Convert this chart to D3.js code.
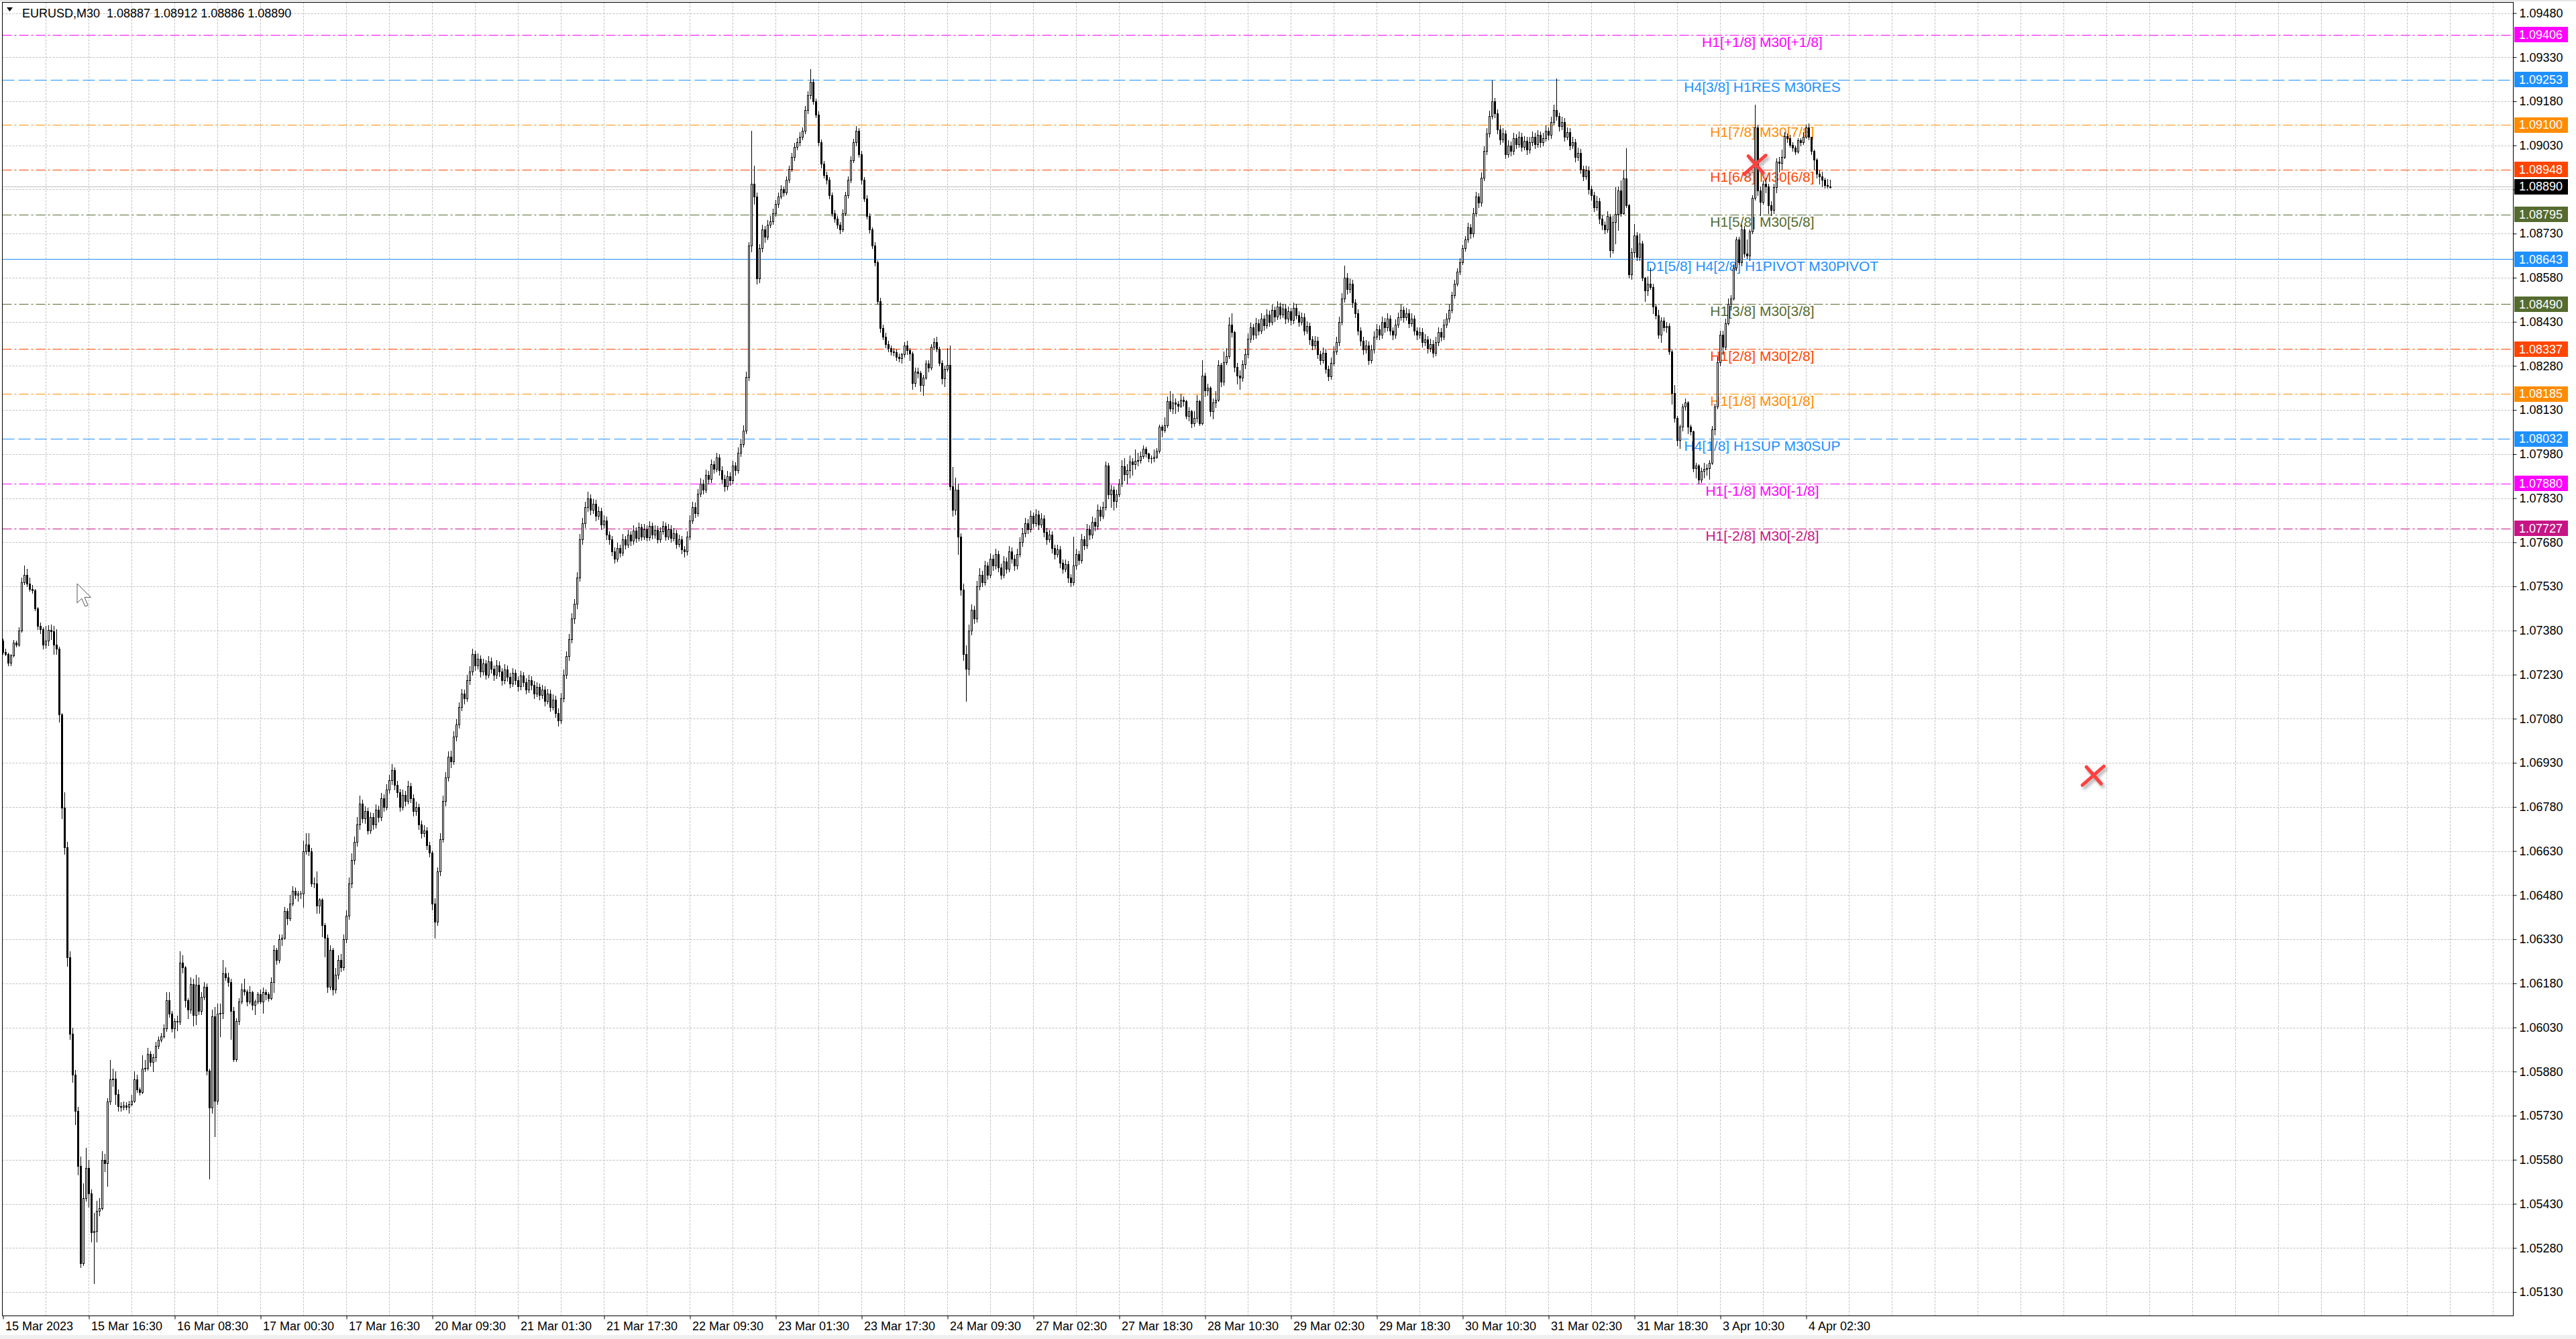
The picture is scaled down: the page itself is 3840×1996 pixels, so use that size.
<!DOCTYPE html>
<html><head><meta charset="utf-8">
<script src="https://cdn.jsdelivr.net/npm/d3@7"></script>
<style>html,body{margin:0;padding:0;background:#fff;overflow:hidden}svg{display:block}</style>
</head><body>
<svg id="c" width="3840" height="1996"></svg>
<script>
// ---------------- DATA ----------------
// candles: [open, high, low, close] in points, price = 1 + v/100000 (EURUSD, M30, one row per bar)
const candles = [
[7345,7352,7300,7306],[7306,7318,7295,7300],[7300,7305,7262,7270],[7270,7300,7260,7295],[7295,7348,7290,7338],[7338,7346,7325,7332],[7332,7392,7328,7380],[7380,7560,7375,7545],[7545,7600,7538,7570],[7570,7590,7530,7540],
[7540,7560,7515,7522],[7522,7535,7508,7516],[7516,7522,7448,7455],[7455,7460,7385,7395],[7395,7408,7370,7385],[7385,7390,7318,7332],[7332,7395,7320,7345],[7345,7398,7330,7382],[7382,7400,7350,7378],[7378,7395,7300,7332],
[7332,7385,7300,7318],[7318,7325,7070,7095],[7095,7100,6740,6778],[6778,6830,6620,6643],[6643,6660,6240,6268],[6268,6290,5990,6008],[6008,6030,5845,5870],[5870,5885,5700,5745],[5745,5760,5530,5560],[5560,5590,5215,5228],
[5228,5500,5222,5449],[5449,5620,5440,5551],[5551,5580,5420,5466],[5466,5480,5300,5332],[5332,5400,5160,5338],[5338,5440,5300,5407],[5407,5450,5390,5415],[5415,5610,5410,5580],[5580,5600,5540,5567],[5567,5790,5490,5777],
[5777,5920,5770,5853],[5853,5890,5830,5856],[5856,5880,5770,5802],[5802,5820,5745,5762],[5762,5775,5745,5760],[5760,5778,5750,5765],[5765,5775,5750,5760],[5760,5780,5740,5768],[5768,5800,5765,5780],[5780,5880,5775,5853],
[5853,5870,5810,5818],[5818,5825,5800,5810],[5810,5935,5805,5890],[5890,5920,5880,5893],[5893,5960,5885,5940],[5940,5950,5900,5912],[5912,5940,5880,5928],[5928,5980,5915,5967],[5967,6000,5958,5989],[5989,6010,5980,6000],
[6000,6040,5995,6026],[6026,6150,6018,6122],[6122,6150,6065,6076],[6076,6085,6015,6026],[6026,6060,5995,6051],[6051,6070,6020,6050],[6050,6290,6040,6251],[6251,6275,6215,6235],[6235,6240,6100,6122],[6122,6130,6060,6090],
[6090,6200,6080,6177],[6177,6195,6035,6073],[6073,6210,6040,6175],[6175,6200,6075,6085],[6085,6150,6075,6135],[6135,6185,6125,6168],[6168,6180,5870,5883],[5883,5890,5515,5758],[5758,6090,5740,6068],[6068,6100,5660,5780],
[5780,6110,5770,6076],[6076,6110,6000,6080],[6080,6260,6060,6213],[6213,6235,6190,6200],[6200,6215,6170,6185],[6185,6195,5990,6085],[6085,6100,5915,5922],[5922,6060,5915,6051],[6051,6130,6040,6118],[6118,6180,6110,6160],
[6160,6195,6140,6152],[6152,6160,6105,6118],[6118,6170,6110,6150],[6150,6155,6090,6106],[6106,6125,6075,6118],[6118,6150,6110,6143],[6143,6160,6110,6118],[6118,6165,6080,6150],[6150,6160,6125,6143],[6143,6150,6120,6130],
[6130,6200,6125,6185],[6185,6310,6150,6293],[6293,6300,6245,6260],[6260,6345,6250,6330],[6330,6345,6310,6335],[6335,6440,6330,6427],[6427,6435,6380,6402],[6402,6480,6395,6452],[6452,6510,6445,6494],[6494,6505,6470,6481],
[6481,6495,6460,6485],[6485,6495,6470,6486],[6486,6665,6440,6628],[6628,6690,6620,6653],[6653,6690,6615,6628],[6628,6640,6510,6519],[6519,6540,6505,6519],[6519,6560,6420,6444],[6444,6470,6420,6464],[6464,6470,6340,6377],
[6377,6385,6270,6335],[6335,6345,6150,6168],[6168,6310,6160,6293],[6293,6300,6140,6160],[6160,6232,6148,6210],[6210,6275,6195,6260],[6260,6280,6220,6235],[6235,6345,6225,6330],[6330,6428,6318,6410],[6410,6540,6398,6520],
[6520,6622,6505,6600],[6600,6680,6585,6660],[6660,6745,6648,6720],[6720,6818,6705,6790],[6790,6805,6728,6740],[6740,6782,6725,6765],[6765,6778,6688,6700],[6700,6762,6690,6745],[6745,6760,6705,6720],[6720,6788,6708,6770],
[6770,6785,6730,6745],[6745,6828,6735,6810],[6810,6822,6765,6780],[6780,6858,6770,6840],[6840,6890,6828,6870],[6870,6925,6858,6905],[6905,6915,6840,6855],[6855,6868,6815,6830],[6830,6842,6765,6780],[6780,6838,6770,6820],
[6820,6835,6785,6800],[6800,6868,6790,6850],[6850,6862,6795,6810],[6810,6822,6750,6765],[6765,6798,6752,6780],[6780,6790,6705,6720],[6720,6735,6675,6690],[6690,6718,6680,6700],[6700,6712,6635,6650],[6650,6662,6610,6625],
[6625,6632,6430,6450],[6450,6470,6335,6390],[6390,6575,6378,6560],[6560,6690,6548,6670],[6670,6818,6660,6800],[6800,6898,6785,6880],[6880,6968,6868,6950],[6950,6972,6915,6935],[6935,7038,6925,7020],[7020,7078,7005,7060],
[7060,7135,7048,7120],[7120,7182,7108,7165],[7165,7178,7130,7150],[7150,7228,7140,7210],[7210,7258,7198,7240],[7240,7318,7228,7300],[7300,7312,7245,7262],[7262,7302,7250,7285],[7285,7295,7222,7240],[7240,7285,7228,7268],
[7268,7280,7215,7230],[7230,7292,7220,7275],[7275,7288,7235,7250],[7250,7262,7212,7228],[7228,7280,7218,7262],[7262,7275,7225,7240],[7240,7252,7195,7210],[7210,7265,7200,7248],[7248,7260,7208,7222],[7222,7235,7185,7200],
[7200,7252,7190,7235],[7235,7248,7198,7212],[7212,7225,7175,7190],[7190,7242,7180,7226],[7226,7238,7190,7205],[7205,7218,7165,7180],[7180,7228,7170,7212],[7212,7225,7180,7195],[7195,7208,7150,7165],[7165,7205,7155,7188],
[7188,7200,7145,7160],[7160,7195,7150,7178],[7178,7190,7125,7140],[7140,7182,7130,7165],[7165,7178,7105,7120],[7120,7162,7110,7145],[7145,7158,7085,7100],[7100,7115,7055,7075],[7075,7168,7065,7150],[7150,7248,7138,7230],
[7230,7310,7218,7293],[7293,7368,7280,7350],[7350,7438,7338,7420],[7420,7488,7405,7470],[7470,7578,7455,7560],[7560,7708,7548,7690],[7690,7762,7675,7745],[7745,7818,7730,7800],[7800,7852,7785,7830],[7830,7842,7775,7790],
[7790,7828,7778,7812],[7812,7825,7755,7770],[7770,7802,7758,7785],[7785,7798,7725,7740],[7740,7772,7728,7755],[7755,7768,7690,7705],[7705,7718,7675,7690],[7690,7702,7635,7650],[7650,7662,7610,7625],[7625,7678,7615,7660],
[7660,7672,7630,7645],[7645,7708,7635,7690],[7690,7702,7658,7672],[7672,7722,7662,7705],[7705,7718,7670,7685],[7685,7738,7675,7720],[7720,7732,7680,7695],[7695,7748,7685,7730],[7730,7742,7688,7700],[7700,7742,7690,7725],
[7725,7738,7685,7698],[7698,7752,7688,7735],[7735,7748,7692,7705],[7705,7738,7695,7722],[7722,7735,7678,7690],[7690,7732,7680,7718],[7718,7752,7708,7735],[7735,7748,7688,7700],[7700,7742,7690,7725],[7725,7738,7682,7695],
[7695,7728,7685,7710],[7710,7722,7660,7675],[7675,7705,7665,7690],[7690,7702,7642,7655],[7655,7668,7630,7648],[7648,7718,7638,7700],[7700,7772,7690,7755],[7755,7818,7745,7800],[7800,7815,7765,7780],[7780,7862,7770,7845],
[7845,7898,7835,7880],[7880,7892,7845,7860],[7860,7928,7850,7910],[7910,7922,7880,7895],[7895,7962,7885,7945],[7945,7958,7915,7930],[7930,7985,7920,7968],[7968,7980,7910,7925],[7925,7938,7880,7895],[7895,7908,7855,7870],
[7870,7922,7860,7905],[7905,7918,7875,7890],[7890,7958,7880,7940],[7940,7952,7910,7925],[7925,8002,7915,7985],[7985,8032,7972,8015],[8015,8078,8005,8060],[8060,8260,8050,8242],[8242,8700,8230,8689],[8689,9079,8670,8900],
[8900,8960,8830,8856],[8856,8870,8560,8577],[8577,8695,8565,8680],[8680,8760,8670,8744],[8744,8755,8700,8720],[8720,8775,8710,8760],[8760,8790,8750,8772],[8772,8815,8762,8800],[8800,8845,8790,8830],[8830,8870,8820,8856],
[8856,8895,8848,8880],[8880,8890,8858,8870],[8870,8925,8862,8912],[8912,8962,8905,8950],[8950,9005,8942,8990],[8990,9038,8980,9024],[9024,9055,9015,9040],[9040,9075,9030,9060],[9060,9092,9050,9079],[9079,9165,9070,9150],
[9150,9215,9140,9200],[9200,9290,9190,9247],[9247,9255,9170,9180],[9180,9190,9125,9135],[9135,9145,9030,9040],[9040,9050,8955,8968],[8968,8978,8920,8930],[8930,8940,8900,8912],[8912,8922,8850,8860],[8860,8870,8790,8800],
[8800,8810,8770,8780],[8780,8790,8748,8760],[8760,8770,8730,8744],[8744,8812,8738,8800],[8800,8872,8792,8860],[8860,8925,8852,8912],[8912,8992,8905,8980],[8980,9052,8972,9040],[9040,9095,9030,9079],[9079,9088,8990,9000],
[9000,9010,8900,8912],[8912,8922,8840,8850],[8850,8860,8780,8790],[8790,8800,8732,8744],[8744,8752,8680,8690],[8690,8700,8620,8633],[8633,8640,8490,8500],[8500,8512,8395,8409],[8409,8420,8370,8380],[8380,8392,8342,8354],
[8354,8365,8330,8340],[8340,8350,8318,8330],[8330,8340,8315,8326],[8326,8335,8300,8310],[8310,8322,8295,8305],[8305,8325,8290,8320],[8320,8360,8310,8349],[8349,8365,8320,8333],[8333,8340,8300,8322],[8322,8330,8200,8221],
[8221,8275,8210,8261],[8261,8275,8240,8255],[8255,8262,8195,8215],[8215,8250,8180,8240],[8240,8300,8235,8288],[8288,8300,8260,8275],[8275,8355,8268,8344],[8344,8375,8335,8360],[8360,8380,8330,8338],[8338,8345,8280,8290],
[8290,8300,8220,8238],[8238,8282,8210,8270],[8270,8340,8262,8283],[8283,8350,7860,7870],[7870,7937,7770,7790],[7790,7900,7775,7860],[7860,7880,7640,7700],[7700,7710,7500,7520],[7520,7540,7280,7300],[7300,7330,7140,7250],
[7250,7400,7230,7380],[7380,7468,7365,7450],[7450,7465,7405,7420],[7420,7548,7410,7530],[7530,7592,7518,7570],[7570,7582,7530,7545],[7545,7618,7535,7600],[7600,7612,7555,7570],[7570,7642,7560,7625],[7625,7638,7585,7600],
[7600,7658,7590,7640],[7640,7652,7580,7595],[7595,7608,7555,7570],[7570,7632,7560,7615],[7615,7628,7575,7590],[7590,7668,7580,7650],[7650,7662,7610,7625],[7625,7638,7585,7600],[7600,7658,7590,7640],[7640,7698,7630,7680],
[7680,7728,7668,7710],[7710,7762,7700,7745],[7745,7758,7710,7725],[7725,7788,7715,7770],[7770,7782,7730,7745],[7745,7792,7735,7775],[7775,7788,7725,7740],[7740,7778,7730,7760],[7760,7772,7700,7715],[7715,7728,7675,7690],
[7690,7722,7680,7705],[7705,7718,7645,7660],[7660,7672,7625,7640],[7640,7672,7630,7655],[7655,7668,7595,7610],[7610,7622,7575,7590],[7590,7622,7580,7605],[7605,7618,7545,7560],[7560,7572,7530,7545],[7545,7700,7535,7600],
[7600,7658,7590,7640],[7640,7652,7605,7620],[7620,7708,7610,7690],[7690,7702,7655,7670],[7670,7742,7660,7725],[7725,7738,7690,7705],[7705,7768,7695,7750],[7750,7762,7720,7735],[7735,7808,7725,7790],[7790,7802,7755,7770],
[7770,7818,7760,7800],[7800,7955,7790,7942],[7942,7950,7830,7844],[7844,7875,7800,7860],[7860,7870,7790,7819],[7819,7860,7800,7844],[7844,7895,7835,7880],[7880,7960,7870,7938],[7938,7965,7890,7911],[7911,7945,7880,7926],
[7926,7975,7900,7955],[7955,7965,7910,7945],[7945,7995,7930,7957],[7957,7985,7940,7960],[7960,7990,7950,7972],[7972,8010,7965,7997],[7997,8005,7970,7982],[7982,7985,7955,7965],[7965,7975,7950,7967],[7967,7995,7955,7970],
[7970,8000,7965,7992],[7992,8080,7985,8074],[8074,8080,8040,8063],[8063,8105,8055,8079],[8079,8175,8070,8160],[8160,8195,8125,8135],[8135,8185,8120,8155],[8155,8170,8120,8150],[8150,8160,8125,8145],[8145,8185,8140,8165],
[8165,8175,8145,8160],[8160,8165,8100,8109],[8109,8140,8095,8125],[8125,8130,8070,8084],[8084,8125,8075,8104],[8104,8180,8090,8160],[8160,8165,8078,8084],[8084,8300,8080,8247],[8247,8255,8175,8196],[8196,8220,8180,8206],
[8206,8210,8110,8125],[8125,8170,8100,8155],[8155,8195,8140,8165],[8165,8300,8160,8283],[8283,8290,8210,8227],[8227,8330,8215,8293],[8293,8340,8285,8313],[8313,8445,8305,8420],[8420,8460,8380,8394],[8394,8400,8260,8277],
[8277,8290,8220,8247],[8247,8265,8200,8240],[8240,8300,8228,8285],[8285,8338,8272,8320],[8320,8390,8308,8372],[8372,8428,8360,8410],[8410,8422,8370,8385],[8385,8442,8375,8425],[8425,8438,8385,8400],[8400,8458,8390,8440],
[8440,8452,8402,8418],[8418,8472,8408,8455],[8455,8468,8415,8430],[8430,8488,8420,8470],[8470,8482,8432,8448],[8448,8500,8438,8482],[8482,8495,8440,8455],[8455,8492,8445,8475],[8475,8488,8425,8440],[8440,8482,8430,8465],
[8465,8478,8420,8435],[8435,8495,8425,8478],[8478,8490,8440,8452],[8452,8465,8415,8430],[8430,8462,8420,8445],[8445,8458,8385,8400],[8400,8432,8390,8415],[8415,8428,8355,8370],[8370,8382,8335,8350],[8350,8382,8340,8365],
[8365,8378,8305,8320],[8320,8332,8285,8300],[8300,8342,8290,8325],[8325,8338,8255,8270],[8270,8282,8230,8245],[8245,8308,8235,8290],[8290,8348,8280,8330],[8330,8378,8320,8360],[8360,8448,8350,8430],[8430,8528,8420,8510],
[8510,8620,8498,8580],[8580,8595,8525,8540],[8540,8578,8530,8560],[8560,8572,8480,8495],[8495,8508,8445,8460],[8460,8472,8385,8400],[8400,8412,8350,8365],[8365,8378,8320,8335],[8335,8368,8325,8350],[8350,8362,8285,8300],
[8300,8352,8290,8335],[8335,8398,8325,8380],[8380,8422,8370,8405],[8405,8418,8370,8385],[8385,8448,8375,8430],[8430,8442,8395,8410],[8410,8458,8400,8440],[8440,8452,8385,8400],[8400,8412,8370,8385],[8385,8438,8375,8420],
[8420,8462,8410,8445],[8445,8488,8435,8470],[8470,8482,8430,8445],[8445,8478,8435,8460],[8460,8472,8410,8425],[8425,8458,8415,8440],[8440,8452,8385,8400],[8400,8412,8370,8385],[8385,8412,8375,8395],[8395,8408,8345,8360],
[8360,8388,8350,8370],[8370,8382,8325,8340],[8340,8372,8330,8355],[8355,8368,8310,8325],[8325,8378,8315,8360],[8360,8412,8350,8395],[8395,8408,8365,8380],[8380,8438,8370,8420],[8420,8458,8410,8440],[8440,8488,8430,8470],
[8470,8532,8462,8520],[8520,8572,8512,8560],[8560,8612,8552,8600],[8600,8645,8592,8633],[8633,8692,8625,8680],[8680,8722,8672,8710],[8710,8768,8700,8750],[8750,8762,8715,8730],[8730,8818,8720,8800],[8800,8872,8790,8856],
[8856,8868,8820,8835],[8835,8938,8825,8920],[8920,9028,8910,9010],[9010,9088,9000,9070],[9070,9148,9060,9130],[9130,9250,9120,9180],[9180,9192,9125,9140],[9140,9152,9070,9085],[9085,9098,9035,9050],[9050,9088,9040,9070],
[9070,9082,8985,9000],[9000,9048,8990,9030],[9030,9042,8995,9010],[9010,9072,9000,9055],[9055,9068,9020,9035],[9035,9078,9025,9060],[9060,9072,9010,9025],[9025,9062,9015,9045],[9045,9058,9000,9015],[9015,9058,9005,9040],
[9040,9078,9030,9060],[9060,9072,9020,9035],[9035,9082,9025,9065],[9065,9078,9025,9040],[9040,9072,9030,9055],[9055,9098,9045,9080],[9080,9092,9050,9065],[9065,9128,9055,9110],[9110,9168,9100,9150],[9150,9258,9115,9130],
[9130,9142,9080,9095],[9095,9128,9085,9110],[9110,9122,9045,9060],[9060,9092,9050,9075],[9075,9088,9015,9030],[9030,9058,9020,9040],[9040,9052,8975,8990],[8990,9022,8980,9005],[9005,9018,8935,8950],[8950,8962,8910,8925],
[8925,8962,8915,8945],[8945,8958,8865,8880],[8880,8892,8845,8860],[8860,8872,8805,8820],[8820,8858,8810,8840],[8840,8852,8765,8780],[8780,8792,8745,8760],[8760,8772,8730,8745],[8745,8805,8735,8790],[8788,8797,8651,8674],
[8674,8790,8665,8769],[8769,8887,8697,8796],[8796,8890,8743,8876],[8876,8910,8790,8800],[8800,8948,8796,8917],[8917,9020,8820,8826],[8826,8830,8580,8591],[8591,8680,8575,8667],[8667,8762,8650,8724],[8724,8735,8640,8650],
[8650,8730,8640,8697],[8697,8705,8570,8579],[8579,8582,8500,8537],[8537,8585,8520,8560],[8560,8614,8540,8548],[8548,8560,8460,8482],[8482,8490,8440,8453],[8453,8470,8375,8387],[8387,8445,8360,8434],[8434,8445,8400,8410],
[8410,8430,8395,8415],[8415,8425,8320,8330],[8330,8335,8150,8188],[8188,8215,8090,8103],[8103,8110,8010,8027],[8027,8080,8000,8074],[8074,8150,8060,8141],[8141,8170,8130,8155],[8155,8160,8050,8074],[8074,8080,8045,8058],
[8058,8060,7920,7932],[7932,7950,7900,7940],[7940,7945,7880,7894],[7894,7935,7885,7923],[7923,7950,7900,7930],[7930,7945,7910,7932],[7932,7960,7895,7951],[7951,8075,7945,8065],[8065,8150,8045,8141],[8141,8310,8135,8292],
[8292,8400,8280,8387],[8387,8400,8320,8345],[8345,8440,8335,8425],[8425,8510,8420,8491],[8491,8520,8470,8510],[8510,8625,8505,8614],[8614,8720,8605,8709],[8709,8720,8625,8633],[8633,8760,8620,8745],[8745,8756,8650,8662],
[8662,8709,8645,8655],[8655,8745,8640,8737],[8737,8860,8730,8851],[8851,9168,8845,9092],[9092,9100,8860,8876],[8876,8890,8791,8838],[8838,8910,8830,8900],[8900,8920,8870,8890],[8890,8900,8800,8826],[8826,8840,8792,8810],
[8810,8900,8800,8887],[8887,8985,8870,8975],[8975,8990,8940,8970],[8970,9015,8950,8990],[8990,9075,8985,9062],[9062,9070,9040,9055],[9055,9065,9025,9031],[9031,9040,9010,9022],[9022,9030,9000,9009],[9009,9055,9005,9047],
[9047,9055,9030,9040],[9040,9075,9035,9060],[9060,9100,9055,9092],[9092,9104,9050,9058],[9058,9060,9000,9012],[9012,9015,8950,8982],[8982,8985,8920,8933],[8933,8945,8900,8925],[8925,8940,8890,8914],[8914,8920,8885,8895],
[8895,8915,8886,8893],[8887,8912,8886,8890]
];
const symbol = "EURUSD,M30";
const timeLabels = ["15 Mar 2023","15 Mar 16:30","16 Mar 08:30","17 Mar 00:30","17 Mar 16:30","20 Mar 09:30","21 Mar 01:30","21 Mar 17:30","22 Mar 09:30","23 Mar 01:30","23 Mar 17:30","24 Mar 09:30","27 Mar 02:30","27 Mar 18:30","28 Mar 10:30","29 Mar 02:30","29 Mar 18:30","30 Mar 10:30","31 Mar 02:30","31 Mar 18:30","3 Apr 10:30","4 Apr 02:30"];
const timeLabelBars = [0,32,64,96,128,160,192,224,256,288,320,352,384,416,448,480,512,544,576,608,640,672];
const priceTicks = ["1.05130","1.05280","1.05430","1.05580","1.05730","1.05880","1.06030","1.06180","1.06330","1.06480","1.06630","1.06780","1.06930","1.07080","1.07230","1.07380","1.07530","1.07680","1.07830","1.07980","1.08130","1.08280","1.08430","1.08580","1.08730","1.08880","1.09030","1.09180","1.09330","1.09480"];
const levelPrices = [1.09406,1.09253,1.09100,1.08948,1.08795,1.08643,1.08490,1.08337,1.08185,1.08032,1.07880,1.07727];
const levelNames = ["H1[+1/8] M30[+1/8]","H4[3/8] H1RES M30RES","H1[7/8] M30[7/8]","H1[6/8] M30[6/8]","H1[5/8] M30[5/8]","D1[5/8] H4[2/8] H1PIVOT M30PIVOT","H1[3/8] M30[3/8]","H1[2/8] M30[2/8]","H1[1/8] M30[1/8]","H4[1/8] H1SUP M30SUP","H1[-1/8] M30[-1/8]","H1[-2/8] M30[-2/8]"];
const markerBars = [652.9, 778.9];
const markerPrices = [1.08962, 1.06884];

// ---------------- STYLE ----------------
const levelColors = ["#FF00FF","#1E90FF","#FF8C00","#FF4500","#556B2F","#1E90FF","#556B2F","#FF4500","#FF8C00","#1E90FF","#FF00FF","#C71585"];
const levelDash = ["14,4,3,4","18,6","14,4,3,4","14,4,3,4","14,4,3,4",null,"14,4,3,4","14,4,3,4","14,4,3,4","18,6","14,4,3,4","14,4,3,4"];
const FONT = "'Liberation Sans', Arial, sans-serif";
const W = 3840, H = 1996;
const plotL = 3.5, plotT = 3.5, plotR = 3746.5, plotB = 1961.5;

const svg = d3.select("#c");
const P = v => 1 + v / 100000;
const snap = v => Math.round(v) + 0.5;

const x = d3.scaleLinear().domain([0, 681]).range([4.5, 2728.5]);
const y = d3.scaleLinear().domain([1.05130, 1.09480]).range([1926, 19.5]);

const defs = svg.append("defs");
defs.append("clipPath").attr("id", "plot").append("rect")
  .attr("x", plotL).attr("y", plotT).attr("width", plotR - plotL).attr("height", plotB - plotT);
defs.append("filter").attr("id", "blur").attr("x", "-50%").attr("y", "-50%").attr("width", "200%").attr("height", "200%")
  .append("feGaussianBlur").attr("stdDeviation", 2.2);

svg.append("rect").attr("width", W).attr("height", H).attr("fill", "#fff");
svg.append("rect").attr("x", 0).attr("y", 0).attr("width", W).attr("height", 2).attr("fill", "#e6e6e6");
svg.append("rect").attr("x", 0).attr("y", 1990).attr("width", W).attr("height", 6).attr("fill", "#f0f0f0");

const plot = svg.append("g").attr("clip-path", "url(#plot)");

// grid
const grid = plot.append("g").attr("stroke", "#c0c0c0").attr("stroke-width", 1).attr("stroke-dasharray", "3,2").attr("fill", "none");
priceTicks.forEach(t => {
  const yy = snap(y(+t));
  grid.append("line").attr("x1", plotL).attr("x2", plotR).attr("y1", yy).attr("y2", yy);
});
d3.range(16, 940, 16).forEach(b => {
  const xx = x(b);
  if (xx < plotR - 2) grid.append("line").attr("x1", xx).attr("x2", xx).attr("y1", plotT).attr("y2", plotB);
});

// level lines
levelPrices.forEach((p, i) => {
  const yy = snap(y(p));
  const ln = plot.append("line").attr("x1", plotL).attr("x2", plotR).attr("y1", yy).attr("y2", yy)
    .attr("stroke", levelColors[i]).attr("stroke-width", 1);
  if (levelDash[i]) ln.attr("stroke-dasharray", levelDash[i]);
});
// level labels
levelPrices.forEach((p, i) => {
  plot.append("text").attr("x", 2627).attr("y", y(p) + 18).attr("text-anchor", "middle")
    .attr("font-family", FONT).attr("font-size", 21).attr("fill", levelColors[i]).text(levelNames[i]);
});

// current price line
const last = candles[candles.length - 1];
const lastPrice = P(last[3]);
plot.append("line").attr("x1", plotL).attr("x2", plotR).attr("y1", snap(y(lastPrice))).attr("y2", snap(y(lastPrice)))
  .attr("stroke", "#c0c0c0").attr("stroke-width", 1);

// candles
const cg = plot.append("g");
candles.forEach((c, i) => {
  const [o, h, l, cl] = c.map(P);
  const cx = x(i);
  cg.append("line").attr("x1", cx).attr("x2", cx).attr("y1", Math.round(y(h))).attr("y2", Math.round(y(l)) + 1)
    .attr("stroke", "#000").attr("stroke-width", 1);
  const top = snap(y(Math.max(o, cl))), bot = snap(y(Math.min(o, cl)));
  if (bot - top < 1) {
    cg.append("line").attr("x1", cx - 1.5).attr("x2", cx + 1.5).attr("y1", top).attr("y2", top).attr("stroke", "#000");
  } else {
    cg.append("rect").attr("x", cx - 1).attr("y", top).attr("width", 2).attr("height", bot - top)
      .attr("fill", cl >= o ? "#fff" : "#000").attr("stroke", "#000").attr("stroke-width", 1);
  }
});

// red cross markers
markerBars.forEach((b, i) => {
  const cx = x(b), cy = y(markerPrices[i]);
  const arms = [[-16, 13, 16, -15], [-10, -14, 12, 11]];
  const sh = svg.append("g").attr("filter", "url(#blur)").attr("opacity", 0.45);
  arms.forEach(a => sh.append("line").attr("x1", cx + a[0] + 3).attr("y1", cy + a[1] + 4).attr("x2", cx + a[2] + 3).attr("y2", cy + a[3] + 4)
    .attr("stroke", "#555").attr("stroke-width", 5).attr("stroke-linecap", "round"));
  arms.forEach(a => svg.append("line").attr("x1", cx + a[0]).attr("y1", cy + a[1]).attr("x2", cx + a[2]).attr("y2", cy + a[3])
    .attr("stroke", "#FF4040").attr("stroke-width", 5).attr("stroke-linecap", "round"));
});

// mouse cursor
const cur = [[0,0],[0,17],[4,13],[7,20],[9.5,19],[6.5,12],[12,12]].map(p => [115 + p[0] * 1.7, 870 + p[1] * 1.7]);
svg.append("polygon").attr("points", cur.map(p => p.join(",")).join(" ")).attr("fill", "#fff").attr("stroke", "#555").attr("stroke-width", 1);

// frame
svg.append("rect").attr("x", plotL).attr("y", plotT).attr("width", plotR - plotL).attr("height", plotB - plotT)
  .attr("fill", "none").attr("stroke", "#000").attr("stroke-width", 1);

// right price axis
const yAxis = d3.axisRight(y).tickValues(priceTicks.map(Number)).tickFormat((d, i) => priceTicks[i]).tickSize(5).tickPadding(4);
const gy = svg.append("g").attr("transform", `translate(${plotR},0)`).call(yAxis);
gy.select(".domain").remove();
gy.selectAll("line").attr("stroke", "#000");
gy.selectAll("text").attr("font-family", FONT).attr("font-size", 18).attr("fill", "#000");

// bottom time axis
const xAxis = d3.axisBottom(x).tickValues(timeLabelBars).tickFormat((d, i) => timeLabels[i]).tickSize(5).tickPadding(4);
const gx = svg.append("g").attr("transform", `translate(0,${plotB})`).call(xAxis);
gx.select(".domain").remove();
gx.selectAll("line").attr("stroke", "#000");
gx.selectAll("text").attr("text-anchor", "start").attr("x", 3).attr("font-family", FONT).attr("font-size", 18).attr("fill", "#000");

// value boxes on price axis
const fmt = d3.format(".5f");
const boxes = levelPrices.map((p, i) => ({ p, c: levelColors[i] })).concat([{ p: lastPrice, c: "#000" }]);
boxes.forEach(b => {
  const yy = y(b.p);
  svg.append("rect").attr("x", 3748).attr("y", Math.round(yy - 11.5)).attr("width", 80).attr("height", 23).attr("fill", b.c);
  svg.append("text").attr("x", 3755).attr("y", yy).attr("dy", "0.35em").attr("font-family", FONT).attr("font-size", 18)
    .attr("fill", "#fff").text(fmt(b.p));
});

// header
svg.append("path").attr("d", "M10,11 L19,11 L14.5,17 Z").attr("fill", "#000");
svg.append("text").attr("x", 33).attr("y", 26).attr("font-family", FONT).attr("font-size", 18).attr("fill", "#000")
  .style("white-space", "pre")
  .text(`${symbol}  ${fmt(P(last[0]))} ${fmt(P(last[1]))} ${fmt(P(last[2]))} ${fmt(P(last[3]))}`);
</script>
</body></html>
